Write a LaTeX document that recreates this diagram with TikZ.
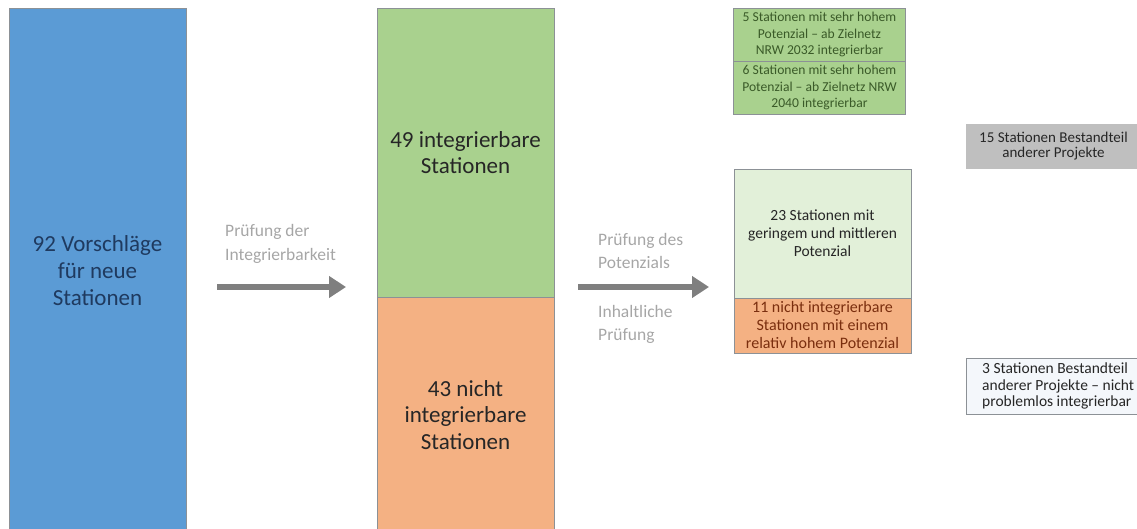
\documentclass[tikz,border=0pt]{standalone}
\usepackage{fontspec}
\setmainfont{Carlito}
\usetikzlibrary{arrows.meta}
\definecolor{bluefill}{HTML}{5B9BD5}
\definecolor{bluetext}{HTML}{1F3A5F}
\definecolor{greenfill}{HTML}{A9D18E}
\definecolor{orangefill}{HTML}{F4B183}
\definecolor{lightgreen}{HTML}{E2F0D9}
\definecolor{greyfill}{HTML}{BFBFBF}
\definecolor{paleblue}{HTML}{F4F7FB}
\definecolor{darktext}{HTML}{262626}
\definecolor{greentext}{HTML}{3A5A28}
\definecolor{redtext}{HTML}{7A2E0E}
\definecolor{labelgrey}{HTML}{A6A6A6}
\definecolor{arrowgrey}{HTML}{7F7F7F}
\definecolor{bordergrey}{HTML}{8C9196}
\tikzset{
  box/.style={rectangle, inner sep=0pt, align=center, draw=bordergrey, line width=0.6pt},
  bigtext/.style={font=\fontsize{23}{26.7}\selectfont},
  smalltext/.style={font=\fontsize{13.6}{16.4}\selectfont},
  midtext/.style={font=\fontsize{15.5}{18}\selectfont},
  steplabel/.style={anchor=west, align=left, text=labelgrey, inner sep=0pt},
  fatarrow/.style={draw=arrowgrey, line width=6.5pt, -{Triangle[length=17pt,width=21pt]}}
}
\begin{document}
\begin{tikzpicture}[x=1pt,y=-1pt]
\useasboundingbox (0,0) rectangle (1137,529);
% left column
\node[box, fill=bluefill, minimum width=177pt, minimum height=525pt, bigtext, text=bluetext]
  (all) at (97.5,270.5) {92 Vorschläge\\für neue\\Stationen};
% arrow 1
\coordinate (a1s) at (217,287);
\coordinate (a1e) at (346,287);
\draw[fatarrow] (a1s) -- (a1e);
\node[steplabel, font=\fontsize{17.5}{24}\selectfont] (lab1) at (225,244) {Prüfung der\\Integrierbarkeit};
% middle column
\node[box, fill=greenfill, minimum width=177pt, minimum height=289pt, bigtext, text=darktext]
  (integ) at (465.5,152.5) {49 integrierbare\\Stationen};
\node[box, fill=orangefill, minimum width=177pt, minimum height=236pt, bigtext, text=darktext]
  (notinteg) at (465.5,415) {43 nicht\\integrierbare\\Stationen};
% arrow 2
\coordinate (a2s) at (578,287);
\coordinate (a2e) at (709,287);
\draw[fatarrow] (a2s) -- (a2e);
\node[steplabel, font=\fontsize{17.5}{22.5}\selectfont] (lab2) at (598,251) {Prüfung des\\Potenzials};
\node[steplabel, font=\fontsize{17.5}{22.5}\selectfont] (lab3) at (598,324.5) {Inhaltliche\\Prüfung};
% right-middle column
\node[box, fill=greenfill, minimum width=172pt, minimum height=53pt, smalltext, text=greentext]
  (s5) at (819.5,34.5) {5 Stationen mit sehr hohem\\Potenzial – ab Zielnetz\\NRW 2032 integrierbar};
\node[box, fill=greenfill, minimum width=172pt, minimum height=53pt, smalltext, text=greentext]
  (s6) at (819.5,87.5) {6 Stationen mit sehr hohem\\Potenzial – ab Zielnetz NRW\\2040 integrierbar};
\node[box, fill=lightgreen, minimum width=177pt, minimum height=129pt, midtext, text=darktext]
  (s23) at (822.5,233.5) {23 Stationen mit\\geringem und mittleren\\Potenzial};
\node[box, fill=orangefill, minimum width=177pt, minimum height=55pt,
  font=\fontsize{16}{18}\selectfont, text=redtext]
  (s11) at (822.5,325.5) {11 nicht integrierbare\\Stationen mit einem\\relativ hohem Potenzial};
% right column
\node[box, fill=greyfill, draw=greyfill, minimum width=175pt, minimum height=44pt,
  font=\fontsize{15}{15}\selectfont, text=darktext]
  (s15) at (1053.5,146) {15 Stationen Bestandteil\\anderer Projekte};
\node[box, fill=paleblue, draw=bordergrey, minimum width=175pt, minimum height=56pt] (s3) at (1053.5,386.5) {};
\node[anchor=west, inner sep=0pt, align=left, font=\fontsize{15.5}{16.3}\selectfont, text=darktext]
  (s3text) at (982,386) {3 Stationen Bestandteil\\anderer Projekte – nicht\\problemlos integrierbar};
\end{tikzpicture}
\end{document}
